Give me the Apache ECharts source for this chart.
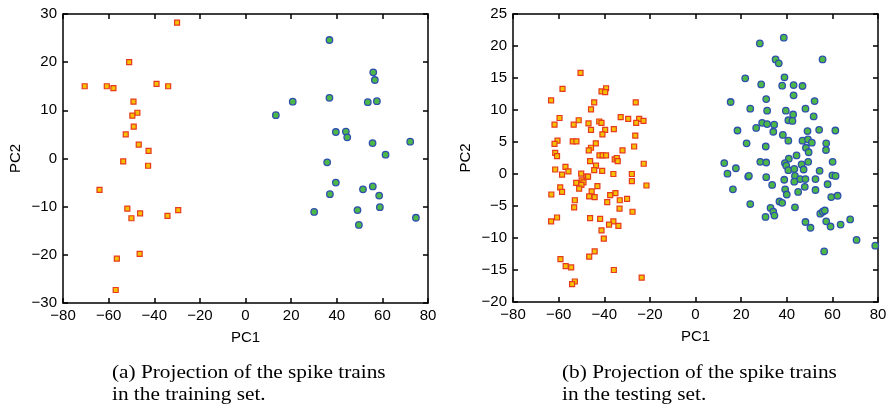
<!DOCTYPE html>
<html>
<head>
<meta charset="utf-8">
<script src="https://cdn.jsdelivr.net/npm/echarts@6/dist/echarts.min.js"></script>
<style>
html,body{margin:0;padding:0;background:#fff;}
#chart{width:893px;height:409px;}
</style>
</head>
<body>
<div id="chart"></div>
<script>
// ---- Data ----
// (a) training set
const trainRed = [
  [-30,28.2],[-51,20],[-70.5,15],[-60.8,15],[-57.9,14.6],[-39,15.5],[-33.9,15],
  [-49.1,11.8],[-47.4,9.5],[-49.6,8.9],[-49,6.6],[-52.5,5],[-46.8,2.9],[-42.5,1.6],
  [-53.6,-0.6],[-42.7,-1.5],[-64,-6.5],[-51.8,-10.4],[-46.2,-11.4],[-50,-12.4],
  [-34.2,-11.9],[-29.5,-10.7],[-46.4,-19.8],[-56.4,-20.8],[-56.9,-27.3]
];
const trainBlue = [
  [36.8,24.6],[56,17.9],[56.7,16.3],[20.7,11.8],[36.8,12.6],[53.6,11.7],[57.6,11.9],
  [13.3,9],[39.6,5.5],[44,5.6],[44.6,4.4],[55.7,3.2],[72.2,3.5],[61.4,0.8],
  [35.8,-0.8],[39.6,-5],[37,-7.4],[51.5,-6.4],[55.8,-5.8],[58.6,-7.7],[58.9,-10.1],
  [30.1,-11.1],[49.1,-10.7],[49.7,-13.8],[74.7,-12.3]
];
// (b) testing set
const testRed = [
  [-50.4,15.8],[-58.3,13.3],[-39.2,13.4],[-41.2,12.9],[-39.6,12.8],[-63.3,11.5],[-44.4,11.2],
  [-26.2,11.2],[-45.8,10.1],[-59.6,8.75],[-32.8,8.9],[-29.5,8.6],[-24.7,8.6],[-22.8,8.3],
  [-26,8],[-51.2,8.4],[-61.8,7.7],[-53.4,7.7],[-46.9,7.9],[-42.2,8.2],[-41.2,8],
  [-45.8,6.9],[-39.6,6.9],[-35.8,7],[-40.8,6.2],[-26.4,6],[-60.5,5.2],[-61.8,4.7],
  [-53.8,5.1],[-52.2,5.1],[-43.7,4.8],[-45.8,4.1],[-46.8,3.7],[-26.9,4.3],[-32,3.7],
  [-61.5,3.3],[-60.7,2.8],[-42.1,2.9],[-40.7,2.9],[-39.2,2.9],[-35.4,2.3],[-34.5,2.5],
  [-34.1,2],[-46.2,2],[-43.6,1.3],[-22.7,1.6],[-61.5,0.7],[-57,1.1],[-55.7,0.4],
  [-58.5,-0.1],[-44.4,0.6],[-40.9,0.5],[-50.1,0.05],[-47.8,-0.4],[-47.1,-0.4],[-36,0],
  [-27.9,0],[-27.9,-1.1],[-49.9,-1],[-52.3,-1.4],[-49.1,-1.3],[-50,-1.7],[-21.5,-1.8],
  [-59.3,-2.1],[-43,-1.9],[-51,-2.3],[-58.5,-2.8],[-45.5,-2.7],[-63.2,-3.2],[-35.1,-3],
  [-37.4,-3.3],[-46.6,-3.5],[-44.2,-3.6],[-30,-3.9],[-33.2,-4.1],[-52.9,-4.1],[-38.7,-4.4],
  [-53.2,-5.2],[-33.3,-5.4],[-27.6,-5.9],[-60.7,-6.8],[-63.3,-7.4],[-46.2,-6.9],[-41.8,-7],
  [-36,-7.4],[-37.9,-7.9],[-33.8,-8.1],[-41.2,-8.8],[-40.2,-10.1],[-44.2,-12.1],[-46.6,-12.9],
  [-59.2,-13.3],[-56.9,-14.4],[-54.5,-14.6],[-35.8,-15],[-23.6,-16.2],[-52.9,-16.8],[-54.1,-17.2]
];
const testBlue = [
  [38.7,21.3],[28.2,20.4],[35.1,17.9],[36.5,17.3],[55.7,17.9],[21.8,14.95],[39,15.1],
  [28.8,14],[38,13.8],[43,13.9],[46.9,13.75],[43,12.3],[15.4,11.25],[31,11.7],[52.2,11.4],
  [24,10.2],[31.4,9.9],[39.6,9.9],[48.2,10.2],[42.8,9.3],[51.8,9],[40.7,8.4],[42.5,8.3],
  [29.2,8],[31.4,7.8],[34.5,7.7],[26.6,7.2],[18.4,6.8],[34.1,6.6],[49.1,6.7],[54.2,6.9],
  [61.3,6.8],[38.3,6.1],[40.7,5.2],[46.9,5.2],[49.3,5.4],[51,4.9],[22.4,4.8],[30.8,4.3],
  [48.4,4.1],[57.3,4.8],[57.2,3.75],[49.6,3.4],[44.3,2.9],
  [12.6,1.7],[28.4,1.9],[31,1.8],[40.9,2.4],[39.2,1.7],[39.8,1.3],[40.7,0.6],[46.5,1.5],
  [49.4,1.9],[43.3,0.8],[47.4,0.7],[60.1,1.9],[17.7,0.9],[14,0.05],[23.1,-0.4],[23.4,-0.3],
  [31,-0.5],[43.6,-0.3],[45.9,-0.8],[48.2,-0.8],[38.9,-0.9],[43.3,-1.2],[52.6,-0.8],
  [54.4,0.5],[60,-0.2],[61.4,-0.3],[33.6,-1.7],[57.9,-1.6],[47.9,-2],[16.4,-2.4],[39.3,-2.4],
  [52.6,-2.5],[45,-2.8],[40,-3.2],[59.5,-3.6],[62.3,-3.4],[24,-4.7],[36.8,-4.3],[38,-4.5],
  [43.6,-5.2],[32.9,-5.3],[34.1,-5.9],[34.6,-6.5],[30.7,-6.7],[54.7,-6.2],[55.8,-5.9],
  [56.7,-5.7],[48.2,-7.5],[57.3,-7.4],[50.4,-8.4],[59.2,-8.2],[63.6,-7.9],[67.8,-7.1],
  [70.6,-10.3],[78.8,-11.2],[56.4,-12.1]
];
const xRange = {min:-80, max:80, interval:20};
const yRangeA = {min:-30, max:30, interval:10};
const yRangeB = {min:-20, max:25, interval:5};
const captionA = ['(a) Projection of the spike trains', 'in the training set.'];
const captionB = ['(b) Projection of the spike trains', 'in the testing set.'];
const axisNameX = 'PC1', axisNameY = 'PC2';

// ---- Chart ----
const chart = echarts.init(document.getElementById('chart'), null, {renderer:'canvas'});
const FONT = 'Liberation Sans, Arial, Helvetica, sans-serif';
const fmt = v => (v < 0 ? '\u2212' + Math.abs(v) : String(v));
const lineStyle = {color:'#000', width:1.5};

function mainX(grid, name){
  return {gridIndex:grid, type:'value', position:'bottom', ...xRange,
    name:name, nameLocation:'middle', nameGap:27,
    nameTextStyle:{fontFamily:FONT, fontSize:15, color:'#000'},
    axisLine:{show:true, onZero:false, lineStyle},
    axisTick:{show:true, inside:true, length:5, lineStyle},
    axisLabel:{show:true, formatter:fmt, fontFamily:FONT, fontSize:15, color:'#000', margin:5, showMinLabel:true, showMaxLabel:true},
    splitLine:{show:false}};
}
function mirrorX(grid){
  return {gridIndex:grid, type:'value', position:'top', ...xRange,
    axisLine:{show:true, onZero:false, lineStyle},
    axisTick:{show:true, inside:true, length:5, lineStyle},
    axisLabel:{show:false}, splitLine:{show:false}};
}
function mainY(grid, name, r){
  return {gridIndex:grid, type:'value', position:'left', ...r,
    name:name, nameLocation:'middle', nameGap:40,
    nameTextStyle:{fontFamily:FONT, fontSize:15, color:'#000'},
    axisLine:{show:true, onZero:false, lineStyle},
    axisTick:{show:true, inside:true, length:5, lineStyle},
    axisLabel:{show:true, formatter:fmt, fontFamily:FONT, fontSize:15, color:'#000', margin:6, showMinLabel:true, showMaxLabel:true},
    splitLine:{show:false}};
}
function mirrorY(grid, r){
  return {gridIndex:grid, type:'value', position:'right', ...r,
    axisLine:{show:true, onZero:false, lineStyle},
    axisTick:{show:true, inside:true, length:5, lineStyle},
    axisLabel:{show:false}, splitLine:{show:false}};
}
const redStyle = {type:'scatter', symbol:'rect', symbolSize:5,
  itemStyle:{color:'#f5c000', borderColor:'#e63a1e', borderWidth:1.2, opacity:1}};
const blueStyle = {type:'scatter', symbol:'circle', symbolSize:6.5,
  itemStyle:{color:'#4db848', borderColor:'#2f4fae', borderWidth:1.3, opacity:1}};

function caption(lines, x){
  return lines.map((t, i) => ({type:'text', x:x, y:373 + i*22, scaleX:1.12, scaleY:1,
    style:{text:t, fontFamily:'Liberation Serif, Times New Roman, serif', fontSize:19,
      fill:'#000', align:'left', verticalAlign:'middle'}}));
}

chart.setOption({
  animation:false,
  backgroundColor:'#fff',
  grid:[
    {left:63, top:14, width:365, height:289, containLabel:false},
    {left:513, top:14, width:365, height:288, containLabel:false}
  ],
  xAxis:[mainX(0, axisNameX), mirrorX(0), mainX(1, axisNameX), mirrorX(1)],
  yAxis:[mainY(0, axisNameY, yRangeA), mirrorY(0, yRangeA), mainY(1, axisNameY, yRangeB), mirrorY(1, yRangeB)],
  series:[
    {...redStyle, name:'train-class1', xAxisIndex:0, yAxisIndex:0, data:trainRed},
    {...blueStyle, name:'train-class2', xAxisIndex:0, yAxisIndex:0, data:trainBlue},
    {...redStyle, name:'test-class1', xAxisIndex:2, yAxisIndex:2, data:testRed},
    {...blueStyle, name:'test-class2', xAxisIndex:2, yAxisIndex:2, data:testBlue}
  ],
  graphic:[...caption(captionA, 112), ...caption(captionB, 562)]
});
</script>
</body>
</html>
